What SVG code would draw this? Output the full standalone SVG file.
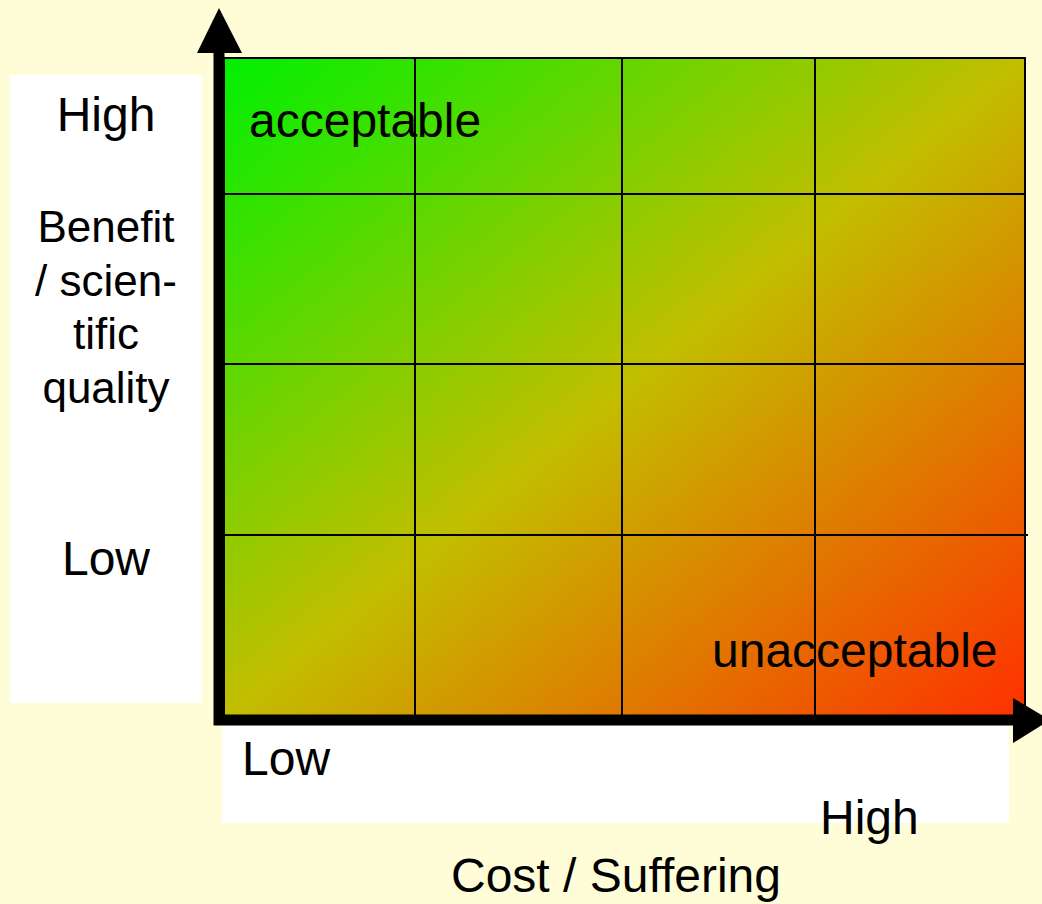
<svg xmlns="http://www.w3.org/2000/svg" width="1042" height="904" viewBox="0 0 1042 904">
<style>
text{font-family:"Liberation Sans",Arial,sans-serif;font-size:48px;fill:#000}
text.s{font-size:44px}
.grid{stroke:#000;stroke-width:2;fill:none}
.axis{stroke:#000;stroke-width:11;fill:none}
</style>
<defs>
<linearGradient id="g" x1="0" y1="0" x2="1" y2="1">
<stop offset="0" stop-color="#00F000"/>
<stop offset="0.5" stop-color="#C2BE00"/>
<stop offset="1" stop-color="#FF3000"/>
</linearGradient>
</defs>
<rect width="1042" height="904" fill="#FFFCD8"/>
<rect x="10" y="75" width="192" height="628" fill="#fff"/>
<rect x="222" y="725" width="787" height="98" fill="#fff"/>
<g id="matrix">
<rect x="224" y="58" width="801" height="658" fill="url(#g)"/>
<rect class="grid" x="224" y="58" width="801" height="658"/>
<path class="grid" d="M415 58V716M622 58V716M815 58V716M224 194H1025M224 364H1025M224 535H1028"/>
</g>
<g id="axes">
<path class="axis" d="M219 50V720H1016"/>
<polygon points="219,8 242,53 197,53"/>
<polygon points="1013,698 1050,720 1013,743"/>
</g>
<g id="labels">
<text x="249" y="137">acceptable</text>
<text x="712" y="667">unacceptable</text>
<text x="106" y="131" text-anchor="middle">High</text>
<text class="s" x="106" y="242" text-anchor="middle">Benefit</text>
<text class="s" x="106" y="296" text-anchor="middle">/ scien-</text>
<text class="s" x="106" y="349" text-anchor="middle">tific</text>
<text class="s" x="106" y="403" text-anchor="middle">quality</text>
<text x="106" y="575" text-anchor="middle">Low</text>
<text x="242" y="775">Low</text>
<text x="820" y="834">High</text>
<text x="451" y="892">Cost / Suffering</text>
</g>
</svg>
